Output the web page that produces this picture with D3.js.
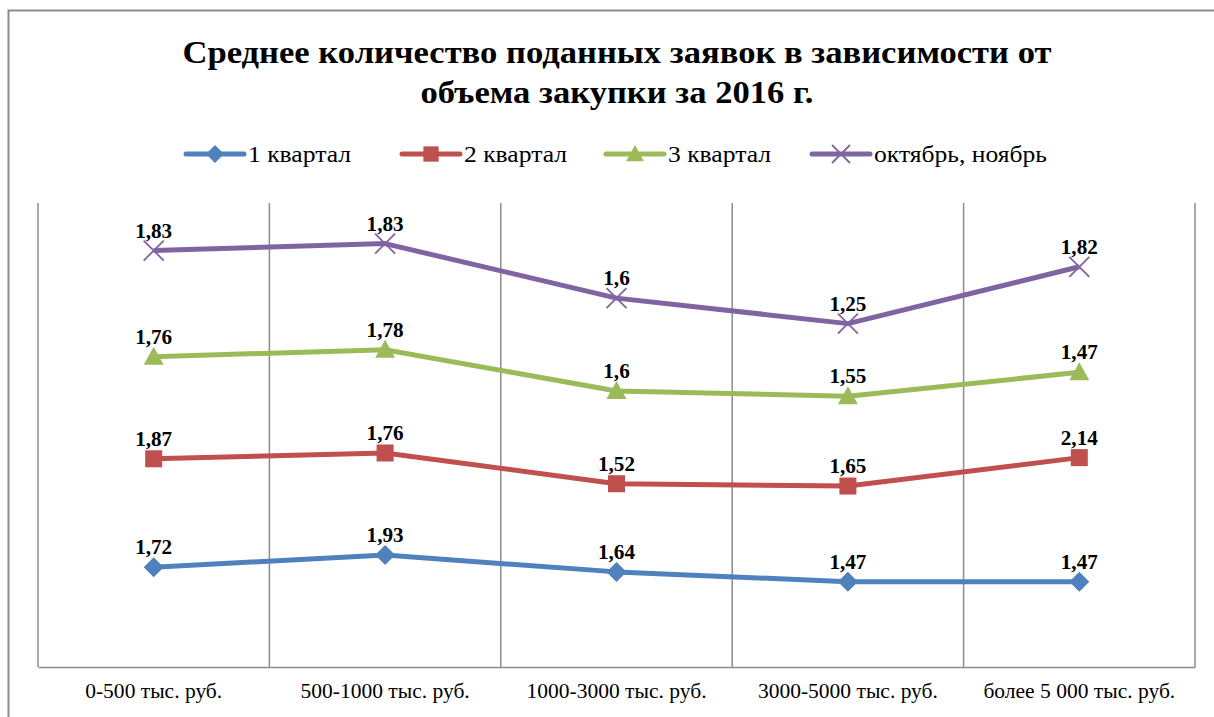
<!DOCTYPE html>
<html><head><meta charset="utf-8">
<script src="https://cdn.jsdelivr.net/npm/d3@7"></script>
<style>body{margin:0;background:#fff}svg{display:block}</style>
</head><body>
<svg id="c" width="1214" height="717"></svg>
<script>
const categories = ["0-500 тыс. руб.", "500-1000 тыс. руб.", "1000-3000 тыс. руб.", "3000-5000 тыс. руб.", "более 5 000 тыс. руб."];
const seriesNames = ["1 квартал", "2 квартал", "3 квартал", "октябрь, ноябрь"];
const q1 = [1.72, 1.93, 1.64, 1.47, 1.47];
const q2 = [1.87, 1.76, 1.52, 1.65, 2.14];
const q3 = [1.76, 1.78, 1.6, 1.55, 1.47];
const octNov = [1.83, 1.83, 1.6, 1.25, 1.82];
const colors = ["#4F81BD", "#C0504D", "#9BBB59", "#8064A2"];
const markers = ["diamond", "square", "triangle", "cross"];
const yDomain = [0, 8];
const title = ["Среднее количество поданных заявок в зависимости от", "объема закупки за 2016 г."];

(function () {
const svg = d3.select("#c");
const FONT = '"Liberation Serif", "Times New Roman", serif';

// stretch a text selection horizontally so that the first node reaches targetWidth
function stretch(sel, targetWidth) {
  const nodes = sel.nodes();
  if (!nodes.length) return;
  const f = targetWidth / nodes[0].getComputedTextLength();
  nodes.forEach(n => {
    const l = n.getComputedTextLength();
    d3.select(n).attr("textLength", l * f).attr("lengthAdjust", "spacingAndGlyphs");
  });
}

// outer frame
svg.append("path").attr("d", "M8.5,800V10.5H1300")
  .attr("fill", "none").attr("stroke", "#8c8c8c").attr("stroke-width", 2);

const pL = 38, pR = 1195, pT = 203, pB = 667;
const x = d3.scaleBand().domain(categories).range([pL, pR]);
const y = d3.scaleLinear().domain(yDomain).range([pB, pT]);

// vertical gridlines at category boundaries
const bounds = categories.map(c => x(c)).concat([pR]);
svg.append("g").selectAll("line").data(bounds).join("line")
  .attr("x1", d => d).attr("x2", d => d).attr("y1", pT).attr("y2", pB)
  .attr("stroke", "#8c8c8c").attr("stroke-width", 1.5);

// x axis
const xAxis = d3.axisBottom(x).tickSize(0).tickPadding(17);
const gx = svg.append("g").attr("transform", `translate(0,${pB})`).call(xAxis);
gx.select(".domain").attr("stroke", "#8c8c8c").attr("stroke-width", 1.5);
const tickTexts = gx.selectAll("text").style("font-family", FONT).style("font-size", "20px").attr("fill", "#000");
stretch(tickTexts, 137);

// stacked
const raw = [q1, q2, q3, octNov];
const cum = [];
raw.forEach((arr, i) => cum.push(arr.map((v, j) => v + (i > 0 ? cum[i - 1][j] : 0))));

const cx = c => x(c) + x.bandwidth() / 2;
const line = d3.line().x((d, j) => cx(categories[j])).y(d => y(d));

function drawMarker(g, type, px, py, color, s) {
  if (type === "diamond") {
    g.append("path").attr("d", `M${px},${py - s}L${px + s},${py}L${px},${py + s}L${px - s},${py}Z`).attr("fill", color);
  } else if (type === "square") {
    g.append("rect").attr("x", px - s * 0.85).attr("y", py - s * 0.85).attr("width", s * 1.7).attr("height", s * 1.7).attr("fill", color);
  } else if (type === "triangle") {
    g.append("path").attr("d", `M${px},${py - s}L${px + s},${py + s * 0.8}L${px - s},${py + s * 0.8}Z`).attr("fill", color);
  } else {
    g.append("path").attr("d", `M${px - s},${py - s}L${px + s},${py + s}M${px - s},${py + s}L${px + s},${py - s}`)
      .attr("stroke", color).attr("stroke-width", 1.8).attr("fill", "none");
  }
}

const labelSel = [];
cum.forEach((arr, i) => {
  const g = svg.append("g");
  g.append("path").datum(arr).attr("d", line).attr("fill", "none")
    .attr("stroke", colors[i]).attr("stroke-width", 5).attr("stroke-linejoin", "round");
  arr.forEach((v, j) => drawMarker(g, markers[i], cx(categories[j]), y(v), colors[i], 10));
  const t = g.selectAll("text").data(arr).join("text")
    .attr("x", (d, j) => cx(categories[j]))
    .attr("y", d => y(d) - 13)
    .attr("text-anchor", "middle")
    .style("font-family", FONT).style("font-weight", "bold").style("font-size", "20px")
    .attr("fill", "#000")
    .text((d, j) => String(raw[i][j]).replace(".", ","));
  labelSel.push(t);
});
// all "d,dd" labels share width target; "1,6" shorter keeps same factor
(function () {
  const ref = labelSel[3].nodes()[0]; // "1,83"
  const f = 37 / ref.getComputedTextLength();
  labelSel.forEach(s => s.each(function () {
    const l = this.getComputedTextLength();
    d3.select(this).attr("textLength", l * f).attr("lengthAdjust", "spacingAndGlyphs");
  }));
})();

// title
const tt = svg.append("g").selectAll("text").data(title).join("text")
  .attr("x", 617).attr("y", (d, i) => 63 + i * 40)
  .attr("text-anchor", "middle")
  .style("font-family", FONT).style("font-weight", "bold").style("font-size", "32px")
  .attr("fill", "#000").text(d => d);
stretch(tt, 869);

// legend
const legX = [186, 402, 606, 812];
const legY = 154;
const legTexts = [];
seriesNames.forEach((n, i) => {
  const g = svg.append("g");
  g.append("line").attr("x1", legX[i]).attr("x2", legX[i] + 58).attr("y1", legY).attr("y2", legY)
    .attr("stroke", colors[i]).attr("stroke-width", 5).attr("stroke-linecap", "round");
  drawMarker(g, markers[i], legX[i] + 29, legY, colors[i], 9);
  legTexts.push(g.append("text").attr("x", legX[i] + 62).attr("y", legY + 8)
    .style("font-family", FONT).style("font-size", "24px").attr("fill", "#000").text(n).node());
});
stretch(d3.selectAll(legTexts), 103);
})();
</script>
</body></html>
